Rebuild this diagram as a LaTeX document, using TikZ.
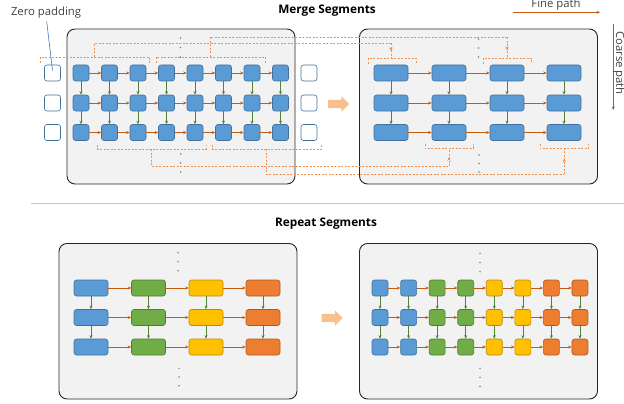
\documentclass[tikz,border=0pt]{standalone}
\usepackage{fontspec}
\setmainfont{Open Sans}
\usetikzlibrary{arrows.meta,calc,positioning,shapes.arrows,decorations.markings}
\definecolor{BlueFill}{RGB}{91,155,213}
\definecolor{BlueLine}{RGB}{65,113,156}
\definecolor{GreenFill}{RGB}{112,173,71}
\definecolor{GreenLine}{RGB}{80,126,50}
\definecolor{YellowFill}{RGB}{255,192,0}
\definecolor{YellowLine}{RGB}{188,140,0}
\definecolor{OrangeFill}{RGB}{237,125,49}
\definecolor{OrangeLine}{RGB}{174,90,33}
\definecolor{FineOrange}{RGB}{197,90,17}
\definecolor{CoarseGreen}{RGB}{84,130,53}
\definecolor{SegDash}{RGB}{240,145,80}
\definecolor{PanelGray}{RGB}{242,242,242}
\definecolor{BigArrow}{RGB}{250,192,140}
\definecolor{LeaderBlue}{RGB}{68,114,196}

\begin{document}
\begin{tikzpicture}[x=1pt,y=-1pt,>=Stealth]
        \tikzset{panel/.style={draw=black!85,line width=0.9pt,fill=PanelGray,rounded corners=8pt},
          cell/.style={draw=#1Line,fill=#1Fill,line width=0.6pt,rounded corners=2.5pt,minimum width=16pt,minimum height=16pt,inner sep=0pt},
          cell/.default=Blue,
          wide/.style={minimum width=34pt},
          pad/.style={cell,fill=white},
          fine/.style={-{Stealth[length=3.5pt,width=3pt]},FineOrange,line width=0.7pt},
          coarse/.style={-{Stealth[length=3.5pt,width=3pt]},CoarseGreen,line width=0.7pt},
          seg/.style={SegDash,line width=0.6pt,dash pattern=on 2pt off 1.5pt},
          midarrow/.style={postaction={decorate},decoration={markings,mark=at position #1 with {\arrow{Stealth[length=3.5pt,width=3.5pt]}}}},
          title/.style={font=\fontsize{11.8}{13}\selectfont\bfseries},
          label/.style={font=\fontsize{11.3}{13}\selectfont,text=black!75},
          bigarrow/.style={single arrow,fill=BigArrow,draw=none,minimum height=21pt,minimum width=15pt,single arrow head extend=3.5pt,inner xsep=0pt,inner ysep=4pt,text height=0pt,text depth=0pt}}
        \useasboundingbox (0,0) rectangle (624,404);
        \node[title] (t1) at (327,11) {Merge Segments};
        \node[title] (t2) at (326,223.5) {Repeat Segments};
        \draw[black!22,line width=1.5pt] (31,203.5) -- (624,203.5);
        \draw[panel] (67,29) rectangle (295,184);
        \draw[panel] (359.5,29) rectangle (597.5,184);
        \draw[panel] (59,243.5) rectangle (297,399);
        \draw[panel] (359.5,243.5) rectangle (597.5,399);
        \foreach \r/\yy in {1/73,2/103,3/132.5}{
          \node[pad] (pl-\r) at (52.5,\yy) {};
          \node[pad] (pr-\r) at (309,\yy) {};
          \foreach \c in {1,...,8}{\node[cell] (m-\r-\c) at ({81+28.5*(\c-1)},\yy) {};}
          \foreach \c/\xx in {1/391,2/449,3/507,4/564}{\node[cell,wide] (M-\r-\c) at (\xx,\yy) {};}
        }
        \foreach \r/\yy in {1/288,2/317.5,3/347}{
          \foreach \c/\xx/\col in {1/91/Blue,2/148.5/Green,3/206/Yellow,4/263/Orange}{\node[cell=\col,wide] (a-\r-\c) at (\xx,\yy) {};}
          \foreach \c/\col in {1/Blue,2/Blue,3/Green,4/Green,5/Yellow,6/Yellow,7/Orange,8/Orange}{\node[cell=\col] (b-\r-\c) at ({380+28.57*(\c-1)},\yy) {};}
        }
        \foreach \r in {1,2,3}{
          \foreach \c [remember=\c as \p (initially 1)] in {2,...,8}{\draw[fine] (m-\r-\p) -- (m-\r-\c); \draw[fine] (b-\r-\p) -- (b-\r-\c);}
          \foreach \c [remember=\c as \p (initially 1)] in {2,3,4}{\draw[fine] (M-\r-\p) -- (M-\r-\c); \draw[fine] (a-\r-\p) -- (a-\r-\c);}
        }
        \foreach \c in {1,...,8}{\draw[coarse] (m-1-\c) -- (m-2-\c); \draw[coarse] (m-2-\c) -- (m-3-\c); \draw[coarse] (b-1-\c) -- (b-2-\c); \draw[coarse] (b-2-\c) -- (b-3-\c);}
        \foreach \c in {1,...,4}{\draw[coarse] (M-1-\c) -- (M-2-\c); \draw[coarse] (M-2-\c) -- (M-3-\c); \draw[coarse] (a-1-\c) -- (a-2-\c); \draw[coarse] (a-2-\c) -- (a-3-\c);}
        \foreach \xx/\yy in {180.5/38,180.5/47.5,180.5/57,180.7/154,180.7/163,180.7/172,478.5/39,478.5/48,478.5/57,479/155,479/163.5,479/172,
          178/252.7,178/261.7,178/270.7,179/368.3,179/377,179/385.7,480/253.3,480/262.5,480/271.7,480/368.3,480/377.3,480/386.5}{\fill[gray] (\xx,\yy) circle[radius=0.8pt];}
        \draw[seg] (40.5,63) |- (149,57) -- (149,63);
        \draw[seg] (156,63) |- (265,57) -- (265,63);
        \draw[seg] (97.7,144.5) |- (206,149) -- (206,144.5);
        \draw[seg] (212.7,144.5) |- (321.7,149) -- (321.7,144.5);
        \draw[seg] (368,64) |- (416,58.5) -- (416,64);
        \draw[seg] (483,64) |- (531.5,58.5) -- (531.5,64);
        \draw[seg] (425,144) |- (473.3,148.3) -- (473.3,144);
        \draw[seg] (540,144) |- (588.7,148.3) -- (588.7,144);
        \coordinate (sA) at (94.5,57);
        \coordinate (sB) at (210,57);
        \coordinate (sC) at (151.7,149);
        \coordinate (sD) at (266.7,149);
        \coordinate (dA) at (391,58.5);
        \coordinate (dB) at (507,58.5);
        \coordinate (dC) at (449,148.3);
        \coordinate (dD) at (564.3,148.3);
        \draw[seg] (sA) |- (391,43.5) coordinate (kA);
        \draw[seg,midarrow=0.5] (kA) -- (dA);
        \draw[seg] (sB) |- (507,37.3) coordinate (kB);
        \draw[seg,midarrow=0.6] (kB) -- (dB);
        \draw[seg] (sC) |- (449,166) coordinate (kC);
        \draw[seg,midarrow=0.5] (kC) -- (dC);
        \draw[seg] (sD) |- (564.3,174.3) coordinate (kD);
        \draw[seg,midarrow=0.6] (kD) -- (dD);
        \node[bigarrow] (g1) at (336.5,104) {};
        \node[bigarrow] (g2) at (330,318) {};
        \node[label] (zp) at (46,12.5) {Zero padding};
        \draw[LeaderBlue,line width=0.6pt] (46.7,21.5) -- ($(pl-1.center)+(0,-2.5)$);
        \node[label] (fp) at (556,4.5) {Fine path};
        \coordinate (f1) at (512.7,12.3);
        \coordinate (f2) at (600,12.3);
        \draw[fine] (f1) -- (f2);
        \coordinate (c1) at (613.3,24);
        \coordinate (c2) at (613.3,110);
        \draw[coarse] (c1) -- (c2);
        \node[label,rotate=-90] (cp) at (619,63) {Coarse path};
      \end{tikzpicture}
\end{document}
